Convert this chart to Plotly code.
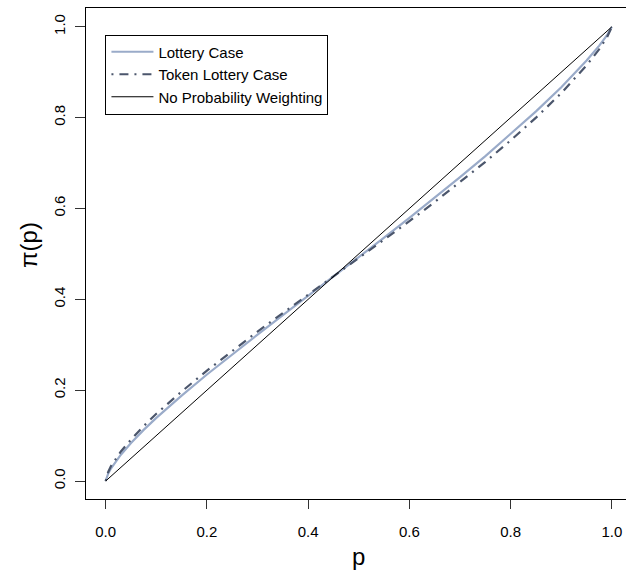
import plotly.graph_objects as go

# probability grid
p_vals = [0, 0.005, 0.01, 0.02, 0.03, 0.05, 0.075, 0.1, 0.15, 0.2, 0.25, 0.3, 0.35,
          0.4, 0.45, 0.5, 0.55, 0.6, 0.65, 0.7, 0.75, 0.8, 0.85, 0.9, 0.95, 0.975, 0.99, 1]

# Lottery case weighting
lottery = [0, 0.0165, 0.027, 0.0435, 0.058, 0.0835, 0.1125, 0.139, 0.188, 0.2345,
           0.2791, 0.3224, 0.3651, 0.4075, 0.45, 0.4926, 0.5356, 0.5791, 0.6234,
           0.6687, 0.7151, 0.7633, 0.8136, 0.8669, 0.9255, 0.9584, 0.9808, 1]

# Token lottery case weighting
token = [0, 0.020, 0.032, 0.050, 0.065, 0.091, 0.121, 0.148, 0.197, 0.243,
         0.287, 0.3289, 0.3696, 0.4098, 0.45, 0.4901, 0.5308, 0.572, 0.6142, 0.6576,
         0.7026, 0.7498, 0.7998, 0.8539, 0.915, 0.9508, 0.9762, 1]

# identity line
ident_x = [0, 1]
ident_y = [0, 1]

tick_vals = [0, 0.2, 0.4, 0.6, 0.8, 1.0]
tick_text = ["0.0", "0.2", "0.4", "0.6", "0.8", "1.0"]

FONT = "Liberation Sans, Arial, Helvetica, sans-serif"

fig = go.Figure()
fig.add_trace(go.Scatter(x=p_vals, y=lottery, mode="lines", name="Lottery Case",
                         line=dict(color="#9AABC9", width=2.2)))
fig.add_trace(go.Scatter(x=p_vals, y=token, mode="lines", name="Token Lottery Case",
                         line=dict(color="#4B566C", width=2.2, dash="2px,6px,9px,6px")))
fig.add_trace(go.Scatter(x=ident_x, y=ident_y, mode="lines", name="No Probability Weighting",
                         line=dict(color="black", width=1)))

fig.update_layout(
    width=626, height=575,
    margin=dict(l=86, r=0, t=8, b=76),
    paper_bgcolor="white", plot_bgcolor="white",
    font=dict(family=FONT, color="black", size=15),
    showlegend=True,
    legend=dict(x=0.036, y=0.946, xanchor="left", yanchor="top",
                bgcolor="white", bordercolor="black", borderwidth=1,
                font=dict(family=FONT, size=15, color="black"),
                tracegroupgap=0, itemwidth=42),
    xaxis=dict(range=[-0.0389, 1.0278], tickvals=tick_vals, ticktext=tick_text,
               ticks="outside", ticklen=9, tickwidth=1, tickcolor="#333",
               showline=True, linecolor="black", linewidth=1, mirror=True,
               showgrid=False, zeroline=False, ticklabelstandoff=10,
               tickfont=dict(size=15)),
    yaxis=dict(range=[-0.0396, 1.0412], tickvals=tick_vals, ticktext=tick_text,
               ticks="outside", ticklen=10, tickwidth=1, tickcolor="#333",
               showline=True, linecolor="black", linewidth=1, mirror=False,
               showgrid=False, zeroline=False, tickangle=-90, ticklabelstandoff=4,
               tickfont=dict(size=15)),
    annotations=[
        dict(text="p", xref="paper", yref="paper", x=(358 - 86) / 540, y=(499 - 556) / 491,
             xanchor="center", yanchor="middle", showarrow=False,
             font=dict(size=24, family=FONT)),
        dict(text="π(p)", xref="paper", yref="paper", x=(28 - 86) / 540, y=(499 - 245) / 491,
             xanchor="center", yanchor="middle", showarrow=False, textangle=-90,
             font=dict(size=24, family=FONT)),
    ],
)

fig.write_html("out.html")
